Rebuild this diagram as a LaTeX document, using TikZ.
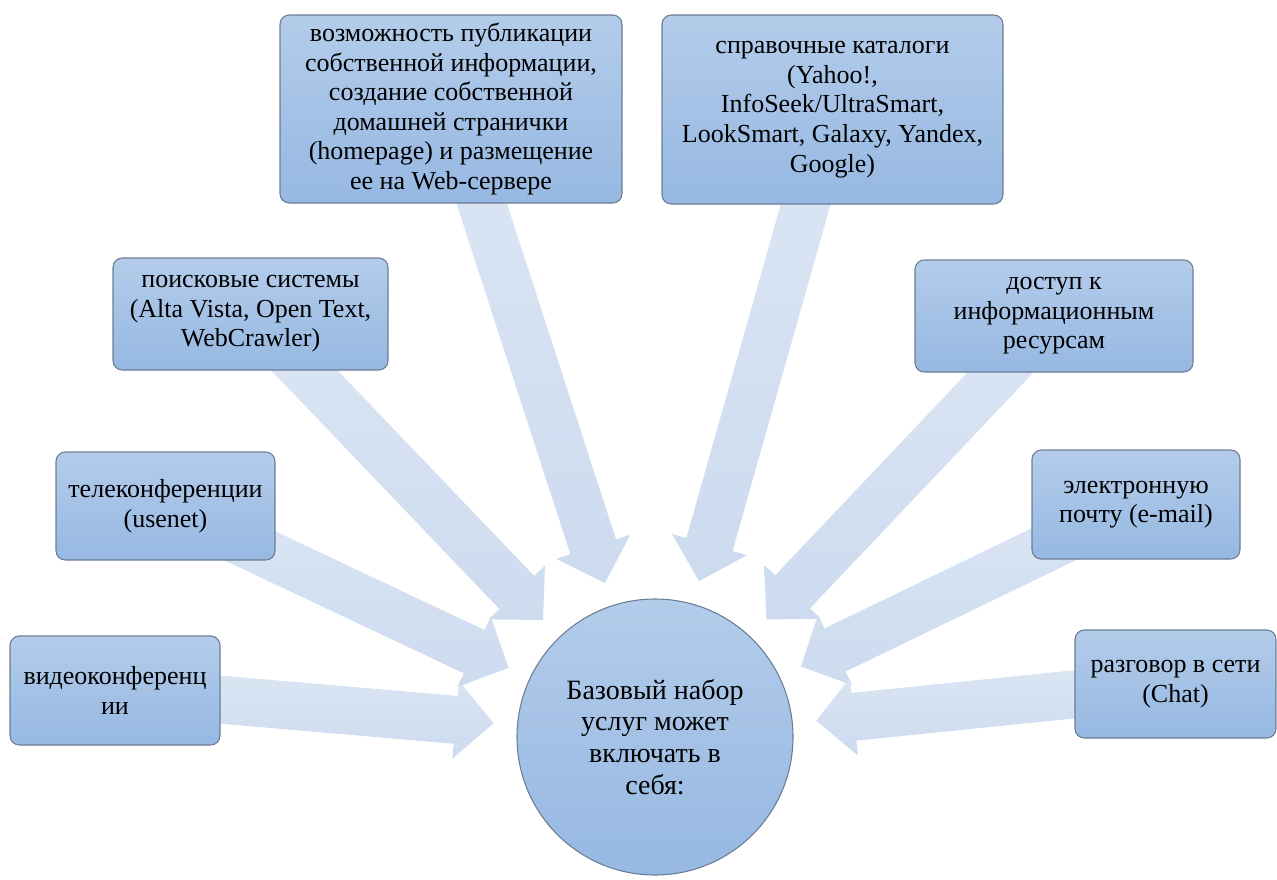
\documentclass[tikz,border=0pt]{standalone}
\usepackage{fontspec}
\setmainfont{Liberation Serif}
\usetikzlibrary{calc}
\pgfdeclarelayer{background}
\pgfsetlayers{background,main}
\definecolor{boxtop}{HTML}{B3CCEA}
\definecolor{boxbot}{HTML}{96B8E2}
\definecolor{boxline}{HTML}{6B7D95}
\definecolor{arrtop}{HTML}{DCE6F4}
\definecolor{arrbot}{HTML}{CDDBEF}
\tikzset{
  itembox/.style={draw=boxline, line width=0.8pt, rounded corners=7pt,
    top color=boxtop, bottom color=boxbot, align=center, inner sep=0pt,
    font=\rmfamily\fontsize{19.5pt}{22.2pt}\selectfont},
  corecircle/.style={circle, draw=boxline, line width=0.8pt,
    top color=boxtop, bottom color=boxbot, align=center, inner sep=0pt,
    minimum size=207pt, font=\rmfamily\fontsize{21pt}{23.8pt}\selectfont},
  arrowfill/.style={top color=arrtop, bottom color=arrbot, draw=none}
}
\newcommand\myblockarrow[1]{%
  \coordinate (aS) at (#1.center);
  \coordinate (aT) at ($(core.center)!121.5pt!(aS)$);
  \coordinate (aH) at ($(aT)!28.5pt!(aS)$);
  \shade[arrowfill] ($(aS)!18pt!90:(aT)$) -- ($(aH)!18pt!90:(aT)$)
    -- ($(aH)!29.25pt!90:(aT)$) -- (aT) -- ($(aH)!29.25pt!-90:(aT)$)
    -- ($(aH)!18pt!-90:(aT)$) -- ($(aS)!18pt!-90:(aT)$) -- cycle;
}
\begin{document}
\begin{tikzpicture}[x=0.75pt,y=-0.75pt]
\useasboundingbox (0,0) rectangle (1277,879);
\node[corecircle] (core) at (655,737) {Базовый набор\\услуг может\\включать в\\себя:};
\node[itembox, minimum width=157.5pt, minimum height=81.75pt] (video) at (115,690.5) {видеоконференц\\ии};
\node[itembox, minimum width=164.25pt, minimum height=81pt] (tele) at (165.5,506) {телеконференции\\(usenet)};
\node[itembox, minimum width=206.25pt, minimum height=84pt] (search) at (250.5,314) {поисковые системы\\(Alta Vista, Open Text,\\WebCrawler)};
\node[itembox, minimum width=256.5pt, minimum height=141pt] (pub) at (451,109) {возможность публикации\\собственной информации,\\создание собственной\\домашней странички\\(homepage) и размещение\\ее на Web-сервере};
\node[itembox, minimum width=255.75pt, minimum height=141.75pt] (cat) at (832.5,109.5) {справочные каталоги\\(Yahoo!,\\InfoSeek/UltraSmart,\\LookSmart, Galaxy, Yandex,\\Google)};
\node[itembox, minimum width=208.5pt, minimum height=84pt] (access) at (1054,316) {доступ к\\информационным\\ресурсам};
\node[itembox, minimum width=156pt, minimum height=81.75pt] (email) at (1136,504.5) {электронную\\почту (e-mail)};
\node[itembox, minimum width=150.75pt, minimum height=81pt] (chat) at (1175.5,684) {разговор в сети\\(Chat)};
\begin{pgfonlayer}{background}
\myblockarrow{video}
\myblockarrow{tele}
\myblockarrow{search}
\myblockarrow{pub}
\myblockarrow{cat}
\myblockarrow{access}
\myblockarrow{email}
\myblockarrow{chat}
\end{pgfonlayer}
\end{tikzpicture}
\end{document}
